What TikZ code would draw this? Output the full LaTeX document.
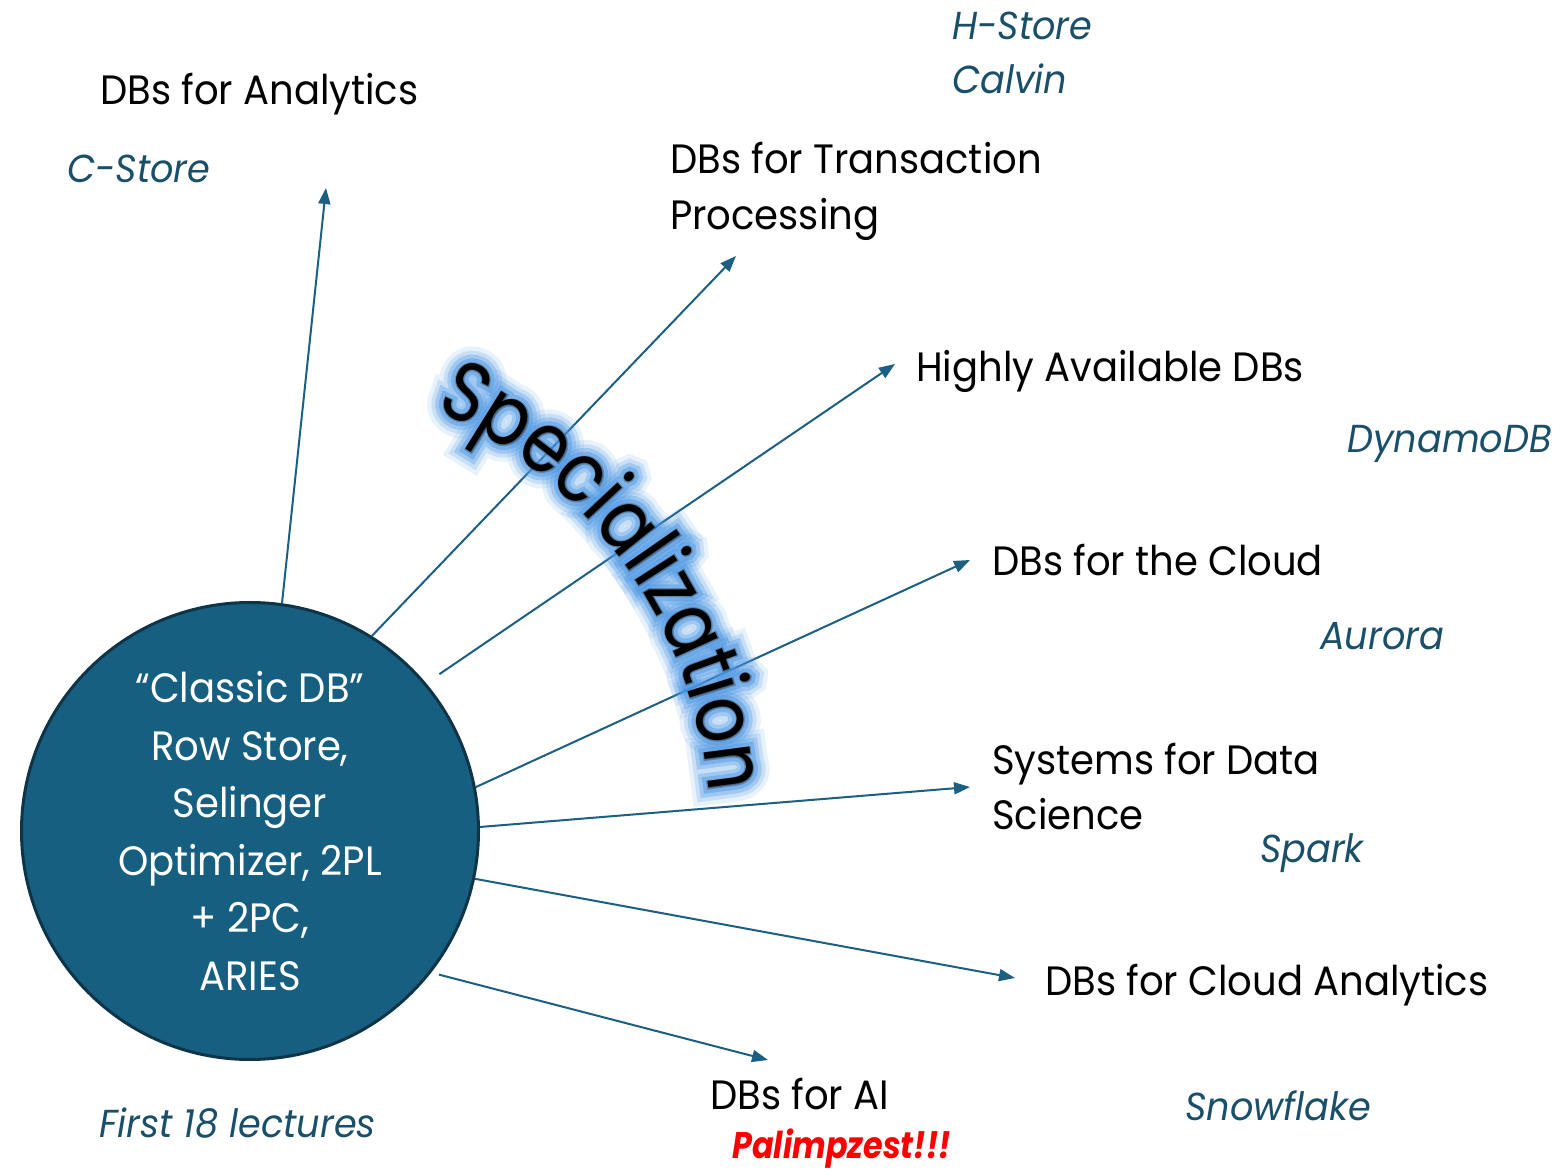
\documentclass[tikz,border=0pt]{standalone}
\usepackage{fontspec}
\setmainfont{Poppins}[FakeStretch=0.94]
\newfontfamily\hotfont{Poppins}[FakeStretch=0.86]
\newfontfamily\arcfont{Poppins}[FakeStretch=0.85]
\newfontfamily\haloA{Poppins}[FakeStretch=0.85, FakeBold=40]
\newfontfamily\haloB{Poppins}[FakeStretch=0.85, FakeBold=30]
\newfontfamily\haloC{Poppins}[FakeStretch=0.85, FakeBold=21]
\newfontfamily\haloD{Poppins}[FakeStretch=0.85, FakeBold=12]
\newfontfamily\arcshadowfont{Poppins}[FakeStretch=0.85, FakeBold=3]
\usetikzlibrary{decorations.text,arrows.meta}

\definecolor{dbfill}{RGB}{23,95,128}
\definecolor{dbedge}{RGB}{14,52,72}
\definecolor{link}{RGB}{27,96,130}
\definecolor{sysname}{RGB}{25,79,104}
\definecolor{glow}{RGB}{74,150,228}
\definecolor{hot}{RGB}{255,0,0}

\tikzset{
  topic/.style={anchor=base west, inner sep=0pt, text=black,
    font=\fontsize{41}{56}\selectfont},
  sysname/.style={anchor=base west, inner sep=0pt, text=sysname,
    font=\fontsize{39}{56}\selectfont\itshape},
  feed/.style={draw=link, line width=2pt,
    -{Triangle[length=16pt,width=12pt]}},
  core/.style={circle, draw=dbedge, line width=3pt, fill=dbfill,
    minimum size=457pt, inner sep=0pt, text=white, align=center,
    font=\fontsize{41}{57.5}\selectfont},
}

% the word "Specialization" set along an arc round the core
\newcommand{\specarc}[1]{%
  \path[decorate, decoration={text along path, text align=center,
      text={|#1|Specialization}}]
    (core.center) ++(68:460) arc[start angle=68, end angle=3, radius=460];}

\begin{document}
\begin{tikzpicture}[x=1pt, y=1pt]
  \useasboundingbox (0,0) rectangle (1565,1170);
  \fill[white] (0,0) rectangle (1565,1170);

  % the classic system in the middle
  \node[core] (core) at (250,339)
    {“Classic DB”\\Row Store,\\Selinger\\Optimizer, 2PL\\+ 2PC,\\ARIES};

  % arrow tips
  \coordinate (tAnalytics) at (326,982);
  \coordinate (tTxn)       at (736,914);
  \coordinate (tHA)        at (895,806);
  \coordinate (tCloud)     at (970,610);
  \coordinate (tDS)        at (970,383);
  \coordinate (tCloudAn)   at (1015,192);
  \coordinate (tAI)        at (768,110);

  \draw[feed] (core.82.5) -- (tAnalytics);
  \draw[feed] (core.58.8) -- (tTxn);
  \draw[feed, shorten <=16pt] (core.40.9) -- (tHA);
  \draw[feed] (core.11.8) -- (tCloud);
  \draw[feed] (core.1.5) -- (tDS);
  \draw[feed] (core.-12.4) -- (tCloudAn);
  \draw[feed, shorten <=8pt] (core.-38.5) -- (tAI);

  % curved label with a soft blue halo and a faint shadow
  \begin{scope}[opacity=0.12]\specarc{\color{glow}\fontsize{84}{84}\haloA}\end{scope}
  \begin{scope}[opacity=0.2]\specarc{\color{glow}\fontsize{84}{84}\haloB}\end{scope}
  \begin{scope}[opacity=0.3]\specarc{\color{glow}\fontsize{84}{84}\haloC}\end{scope}
  \begin{scope}[opacity=0.45]\specarc{\color{glow}\fontsize{84}{84}\haloD}\end{scope}
  \begin{scope}[opacity=0.35, shift={(2,-3)}]\specarc{\color{black!80}\fontsize{84}{84}\arcshadowfont}\end{scope}
  \specarc{\color{black}\fontsize{84}{84}\arcfont}

  % directions of specialization
  \node[topic] (analytics) at (100,1065) {DBs for Analytics};
  \node[topic] (txn1) at (670,996) {DBs for Transaction};
  \node[topic] (txn2) at (670,940) {Processing};
  \node[topic] (ha) at (916,788) {Highly Available DBs};
  \node[topic] (cloud) at (992,594) {DBs for the Cloud};
  \node[topic] (ds1) at (992,395) {Systems for Data};
  \node[topic] (ds2) at (992,340) {Science};
  \node[topic] (cloudan) at (1045,175) {DBs for Cloud Analytics};
  \node[topic] (ai) at (710,61) {DBs for AI};

  % example systems
  \node[sysname] (cstore) at (67,987) {C-Store};
  \node[sysname] (hstore) at (952,1130) {H-Store};
  \node[sysname] (calvin) at (952,1076) {Calvin};
  \node[sysname] (dynamo) at (1347,717) {DynamoDB};
  \node[sysname] (aurora) at (1320,520) {Aurora};
  \node[sysname] (spark) at (1260,307) {Spark};
  \node[sysname] (snowflake) at (1185,50) {Snowflake};
  \node[sysname] (first) at (99,33) {First 18 lectures};
  \node[anchor=base west, inner sep=0pt, text=hot,
        font=\fontsize{37}{50}\hotfont\bfseries\itshape]
        (palimpzest) at (732,12) {Palimpzest!!!};
\end{tikzpicture}
\end{document}
